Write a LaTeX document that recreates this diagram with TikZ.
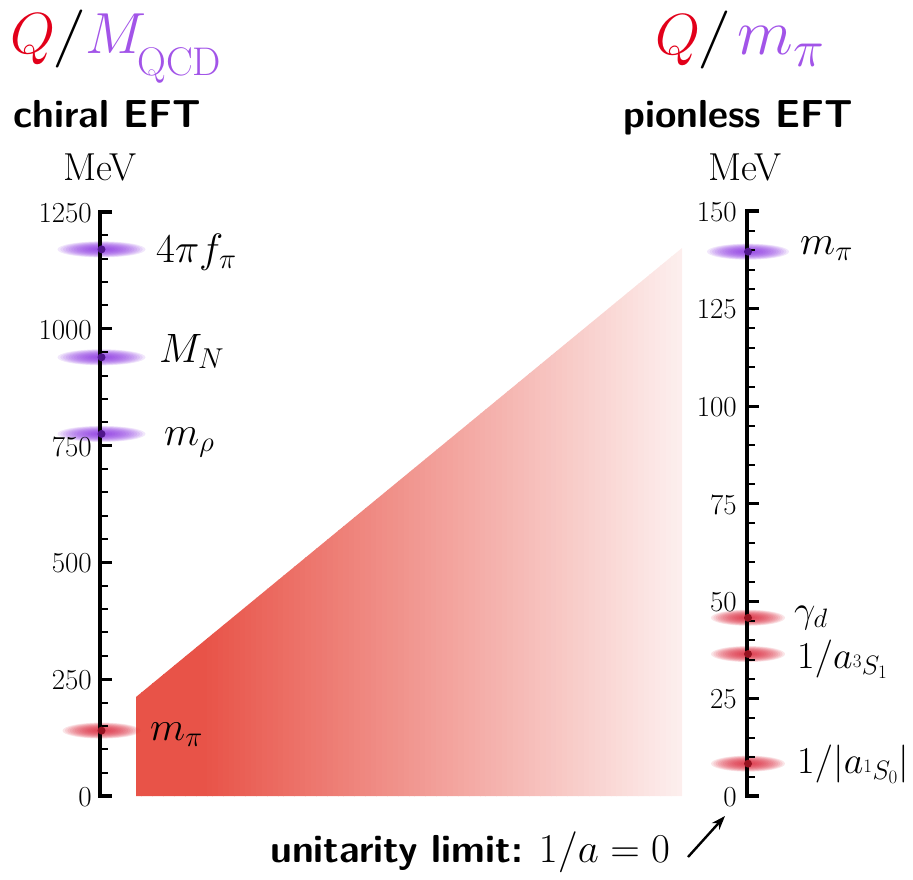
\RequirePackage{fix-cm}
\documentclass[tikz,border=0pt]{standalone}
\usetikzlibrary{arrows.meta}
\definecolor{titlered}{RGB}{226,0,26}
\definecolor{titlepurple}{RGB}{162,84,232}
\definecolor{fillred}{RGB}{232,83,72}
\definecolor{glowpurple}{RGB}{140,55,225}
\definecolor{dotpurple}{RGB}{80,22,140}
\definecolor{glowred}{RGB}{218,40,60}
\definecolor{dotred}{RGB}{150,18,32}
\newcommand\myglow[4]{\foreach \k in {1,...,16} {\fill[#2, opacity=0.12] (#1) ellipse ({#3*\k/16} and {#4*\k/16});}}
\begin{document}
\begin{tikzpicture}[x=1pt,y=-1pt,
  majtick/.style={line width=3pt},
  mintick/.style={line width=2pt},
  axisline/.style={line width=3.3pt, line join=miter},
  ticklabel/.style={anchor=east, inner sep=0pt, font=\fontsize{29}{32}\selectfont},
  marklabel/.style={anchor=base west, inner sep=0pt, font=\fontsize{41}{44}\selectfont},
  smalllabel/.style={anchor=base west, inner sep=0pt, font=\fontsize{38}{40}\selectfont},
  headertext/.style={anchor=base west, inner sep=0pt, font=\fontsize{39}{44}\selectfont\sffamily\bfseries},
  titletext/.style={anchor=base west, inner sep=0pt, font=\fontsize{58}{60}\selectfont},
  unitlabel/.style={anchor=base west, inner sep=0pt, font=\fontsize{39}{44}\selectfont},
  dotP/.style={fill=dotpurple},
  dotR/.style={fill=dotred},
]
\useasboundingbox (0,0) rectangle (913,880);

% shaded region: red fading towards white, built from thin strips
\begin{scope}
\clip (136,796) -- (136,697) -- (682,248) -- (682,796) -- cycle;
\foreach \i in {0,...,100} {
  \pgfmathsetmacro\xa{136+\i*5.46}
  \pgfmathsetmacro\pc{min(100,max(0,(730-\xa-2.73)/5.25))}
  \fill[fillred!\pc!white] (\xa,240) rectangle ({\xa+6},800);
}
\end{scope}

% marker positions
\coordinate (pfpi) at (101.5,{796-1170*0.4672});
\coordinate (pMN)  at (101.5,{796-939*0.4672});
\coordinate (prho) at (101.5,{796-775*0.4672});
\coordinate (ppiL) at (101.5,{796-140*0.4672});
\coordinate (ppiR) at (748,{796-139.57*3.9});
\coordinate (pgam) at (748,{796-45.7*3.9});
\coordinate (pthr) at (748,{796-36.4*3.9});
\coordinate (pone) at (748,{796-8.3*3.9});

% glows
\myglow{pfpi}{glowpurple}{44}{8}
\myglow{pMN}{glowpurple}{44}{8}
\myglow{prho}{glowpurple}{44}{8}
\myglow{ppiL}{glowred}{39}{8}
\myglow{ppiR}{glowpurple}{41}{8}
\myglow{pgam}{glowred}{37}{8}
\myglow{pthr}{glowred}{37}{8}
\myglow{pone}{glowred}{37}{8}

% left axis
\foreach \v in {50,100,...,1200} \draw[mintick] (100,{796-\v*0.4672}) -- ++(8,0);
\foreach \v in {250,500,750,1000} \draw[majtick] (100,{796-\v*0.4672}) -- ++(12,0);
\draw[axisline] (112,212) -- (100,212) -- (100,796) -- (112,796);
\foreach \v in {0,250,...,1250} \node[ticklabel] (lt\v) at (92,{797-\v*0.4672}) {\v};

% right axis
\foreach \v in {5,10,...,145} \draw[mintick] (747,{796-\v*3.9}) -- ++(8,0);
\foreach \v in {25,50,...,125} \draw[majtick] (747,{796-\v*3.9}) -- ++(12,0);
\draw[axisline] (759,211) -- (747,211) -- (747,796) -- (759,796);
\foreach \v in {0,25,...,150} \node[ticklabel] (rt\v) at (737,{797-\v*3.9}) {\v};

% dots
\foreach \p in {pfpi,pMN,prho,ppiR} \fill[dotP] (\p) circle (4);
\foreach \p in {ppiL,pgam,pthr,pone} \fill[dotR] (\p) circle (4);

% marker labels
\node[marklabel] (lfpi) at (156,262) {$4\pi f_\pi$};
\node[marklabel] (lMN)  at (159,362) {$M_N$};
\node[marklabel] (lrho) at (164,445) {$m_\rho$};
\node[marklabel] (lpiL) at (150,740) {$m_\pi$};
\node[marklabel] (lpiR) at (800,254) {$m_\pi$};
\node[smalllabel] (lgam) at (794,622) {$\gamma_d$};
\node[smalllabel] (lthr) at (797,668) {$1/a_{{}^3S_1}$};
\node[smalllabel] (lone) at (797,773) {$1/|a_{{}^1S_0}|$};

% titles
\node[titletext, text=titlered] (tQL) at (10,54) {$Q$};
\node[titletext] (tSL) at (52,54) {\scalebox{1.2}[1]{$/$}};
\node[titletext, text=titlepurple] (tML) at (85,54) {$M$};
\node[anchor=base west, inner sep=0pt, text=titlepurple, font=\fontsize{40}{42}\selectfont] (tQCD) at (137,76) {QCD};
\node[titletext, text=titlered] (tQR) at (655,55) {$Q$};
\node[titletext] (tSR) at (697,55) {\scalebox{1.2}[1]{$/$}};
\node[anchor=base west, inner sep=0pt, text=titlepurple, font=\fontsize{65}{70}\selectfont] (tmR) at (737,55) {$m$\kern1pt\raisebox{-12pt}{\fontsize{52}{54}\selectfont$\pi$}};

% headers
\node[headertext] (hdL) at (13,128) {chiral EFT};
\node[headertext] (hdR) at (623,128) {pionless EFT};
\node[unitlabel] (uL) at (63,180) {MeV};
\node[unitlabel] (uR) at (708,180) {MeV};

% unitarity limit
\node[unitlabel] (unit) at (270,862) {{\sffamily\bfseries unitarity limit:} \fontsize{41}{44}\selectfont$1/a=0$};
\coordinate (arrS) at (688,857);
\coordinate (arrE) at (725,816);
\draw[line width=2.4pt, -{Stealth[length=14pt,width=10pt]}] (arrS) -- (arrE);
\end{tikzpicture}
\end{document}
